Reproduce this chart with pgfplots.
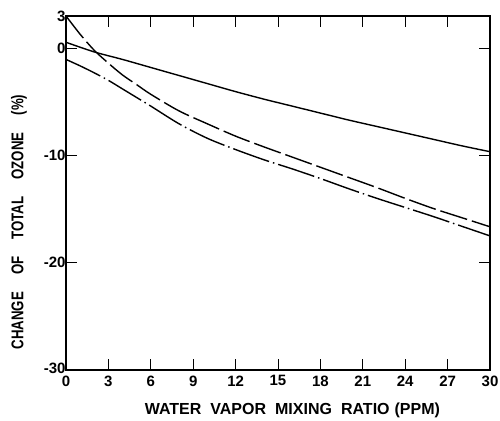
\documentclass[border=0pt]{standalone}
\usepackage{fontspec}
\setmainfont{Liberation Sans}
\newfontfamily\ylabfont[FakeStretch=0.78]{Liberation Sans}
\usepackage{pgfplots}
\pgfplotsset{compat=1.18}
\begin{document}
\begin{tikzpicture}
\useasboundingbox (-66pt,-50pt) rectangle (434pt,370pt);
\begin{axis}[
  at={(0pt,0pt)}, anchor=south west,
  scale only axis, width=424pt, height=354pt,
  xmin=0, xmax=30, ymin=-30, ymax=3,
  xtick={0,3,...,30},
  ytick={3,0,-10,-20,-30},
  yticklabels={3,0,-10,-20,\raisebox{3pt}{-30}},
  tick align=inside,
  xtick pos=both, ytick pos=both,
  major tick length=11pt,
  tick style={line width=0.9pt, black},
  axis line style={line width=2pt},
  /pgf/number format/assume math mode=true,
  ticklabel style={font=\bfseries\fontsize{15}{15}\selectfont},
  xticklabel style={yshift=-2pt},
  yticklabel style={xshift=3pt},
  xlabel={\bfseries\fontsize{16}{16}\selectfont WATER\hspace{9pt}VAPOR\hspace{9pt}MIXING\hspace{9pt}RATIO\hspace{5pt}(PPM)},
  ylabel={\ylabfont\bfseries\fontsize{17}{17}\selectfont CHANGE\hspace{17pt}OF\hspace{17pt}TOTAL\hspace{17pt}OZONE\hspace{17pt}(\%)},
  xlabel style={at={(axis description cs:0.534,-0.113)}, anchor=center},
  ylabel style={at={(axis description cs:-0.1108,0.418)}, anchor=center},
]
\addplot[black, line width=1.4pt, smooth] coordinates {
(0,0.55) (2,-0.35) (4,-1.05) (6,-1.8) (8,-2.55) (10,-3.3) (12,-4.05) (14,-4.75)
(16,-5.4) (18,-6.05) (20,-6.7) (22,-7.3) (24,-7.9) (26,-8.5) (28,-9.1) (30,-9.65)};
\addplot[black, line width=1.4pt, smooth, dash pattern=on 28pt off 5pt] coordinates {
(0,3.0) (1,1.3) (2,-0.2) (3,-1.4) (4,-2.5) (5,-3.4) (6,-4.3) (8,-5.85) (10,-7.05)
(12,-8.2) (14,-9.2) (16,-10.15) (18,-11.1) (20,-12.05) (22,-13.0) (24,-14.0)
(26,-14.95) (28,-15.8) (30,-16.65)};
\addplot[black, line width=1.4pt, smooth, dash pattern=on 38pt off 4pt on 1.5pt off 4pt] coordinates {
(0,-1.05) (1,-1.65) (2,-2.3) (3,-3.0) (4,-3.8) (5,-4.6) (6,-5.4) (8,-7.05) (10,-8.4) (12,-9.45) (14,-10.4)
(16,-11.25) (18,-12.15) (20,-13.1) (22,-14.0) (24,-14.85) (26,-15.7) (28,-16.6) (30,-17.5)};
\end{axis}
\end{tikzpicture}
\end{document}
